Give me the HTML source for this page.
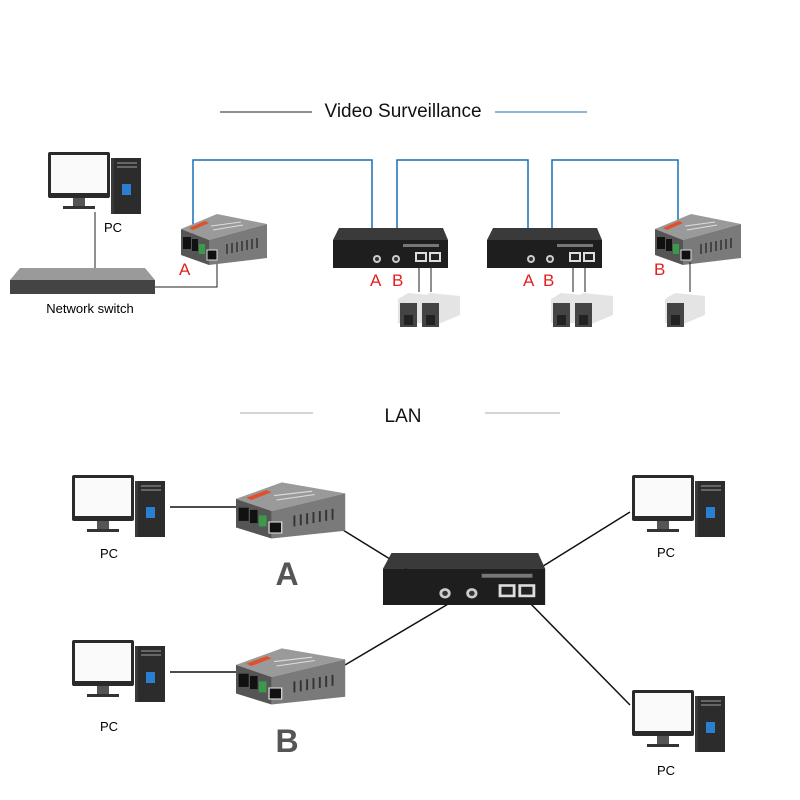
<!DOCTYPE html>
<html><head><style>
html,body{margin:0;padding:0;background:#fff;}
svg{display:block;font-family:"Liberation Sans",sans-serif;}
</style></head><body>
<svg width="800" height="800" viewBox="0 0 800 800" xmlns="http://www.w3.org/2000/svg">
<defs>
<g id="pc">
 <rect x="0" y="0" width="62" height="46" rx="2" fill="#2a2a2a"/>
 <rect x="3" y="3" width="56" height="38" fill="#fafafa"/>
 <rect x="25" y="46" width="12" height="8" fill="#555"/>
 <rect x="15" y="54" width="32" height="3" fill="#333"/>
 <rect x="63" y="6" width="30" height="56" fill="#3a3a3a"/>
 <rect x="66" y="6" width="27" height="56" fill="#2c2c2c"/>
 <rect x="69" y="10" width="20" height="2" fill="#666"/>
 <rect x="69" y="14" width="20" height="2" fill="#666"/>
 <rect x="74" y="32" width="9" height="11" fill="#2a7fd0"/>
</g>
<g id="conv">
 <polygon points="0,19 36,4 86,14 28,30" fill="#9a9a9a"/>
 <polygon points="0,19 28,30 28,55 0,45" fill="#555"/>
 <polygon points="28,30 86,14 86,48 28,55" fill="#7a7a7a"/>
 <polygon points="8,18 24,11 28,13 12,20" fill="#e0502a"/>
 <line x1="30" y1="16" x2="60" y2="12" stroke="#ddd" stroke-width="1"/>
 <line x1="32" y1="20" x2="62" y2="15" stroke="#ddd" stroke-width="1"/>
 <rect x="2" y="27" width="8" height="12" fill="#111"/>
 <rect x="11" y="29" width="6" height="12" fill="#111"/>
 <rect x="18" y="34" width="6" height="10" fill="#3a9a4a"/>
 <rect x="26" y="40" width="10" height="10" fill="#111" stroke="#ddd" stroke-width="1"/>
 <g stroke="#333" stroke-width="1.5">
  <line x1="46" y1="34" x2="46" y2="44"/><line x1="51" y1="33" x2="51" y2="43"/><line x1="56" y1="32" x2="56" y2="42"/><line x1="61" y1="31" x2="61" y2="41"/><line x1="66" y1="30" x2="66" y2="40"/><line x1="71" y1="29" x2="71" y2="39"/><line x1="76" y1="28" x2="76" y2="38"/>
 </g>
</g>
<g id="sw">
 <polygon points="6,0 110,0 115,12 0,12" fill="#3a3a3a"/>
 <rect x="0" y="12" width="115" height="28" fill="#1e1e1e"/>
 <circle cx="44" cy="31" r="4" fill="#ccc"/><circle cx="44" cy="31" r="2" fill="#333"/>
 <circle cx="63" cy="31" r="4" fill="#ccc"/><circle cx="63" cy="31" r="2" fill="#333"/>
 <rect x="82" y="24" width="12" height="10" fill="#ddd"/><rect x="84" y="26" width="8" height="6" fill="#222"/>
 <rect x="96" y="24" width="12" height="10" fill="#ddd"/><rect x="98" y="26" width="8" height="6" fill="#222"/>
 <rect x="70" y="16" width="36" height="3" fill="#777"/>
</g>
<g id="cam">
 <polygon points="0,6 10,0 40,3 40,22 16,32 0,30" fill="#e4e4e4"/>
 <rect x="2" y="10" width="17" height="24" fill="#444"/>
 <rect x="6" y="22" width="9" height="10" fill="#222"/>
</g>
</defs>

<!-- Title -->
<line x1="220" y1="112" x2="312" y2="112" stroke="#222" stroke-width="1"/>
<line x1="495" y1="112" x2="587" y2="112" stroke="#1a6fb0" stroke-width="1"/>
<text x="403" y="117" font-size="19" text-anchor="middle" fill="#111">Video Surveillance</text>

<!-- PC + switch -->
<use href="#pc" x="48" y="152"/>
<text x="113" y="232" font-size="13" text-anchor="middle">PC</text>
<line x1="95" y1="212" x2="95" y2="268" stroke="#222"/>
<polygon points="20,268 145,268 155,280 10,280" fill="#9a9a9a"/>
<rect x="10" y="280" width="145" height="14" fill="#444"/>
<text x="90" y="313" font-size="13" text-anchor="middle">Network switch</text>
<polyline points="155,287 217,287 217,260" fill="none" stroke="#222"/>

<!-- blue fiber lines -->
<g fill="none" stroke="#1a6fb0" stroke-width="1.5">
 <polyline points="193,240 193,160 372,160 372,248"/>
 <polyline points="397,248 397,160 528,160 528,248"/>
 <polyline points="552,248 552,160 678,160 678,232"/>
</g>

<use href="#conv" x="181" y="210"/>
<use href="#conv" x="655" y="210"/>
<use href="#sw" x="333" y="228"/>
<use href="#sw" x="487" y="228"/>

<g font-size="17" fill="#e02020">
<text x="179" y="275">A</text>
<text x="370" y="286">A</text><text x="392" y="286">B</text>
<text x="523" y="286">A</text><text x="543" y="286">B</text>
<text x="654" y="275">B</text>
</g>
<g stroke="#222">
<line x1="419" y1="264" x2="419" y2="292"/><line x1="431" y1="264" x2="431" y2="292"/>
<line x1="573" y1="264" x2="573" y2="292"/><line x1="585" y1="264" x2="585" y2="292"/>
<line x1="690" y1="262" x2="690" y2="292"/>
</g>
<use href="#cam" x="398" y="293"/><use href="#cam" x="420" y="293"/>
<use href="#cam" x="551" y="293"/><use href="#cam" x="573" y="293"/>
<use href="#cam" x="665" y="293"/>

<!-- LAN -->
<line x1="240" y1="413" x2="313" y2="413" stroke="#aaa"/>
<line x1="485" y1="413" x2="560" y2="413" stroke="#aaa"/>
<text x="403" y="422" font-size="19" text-anchor="middle" fill="#111">LAN</text>

<g stroke="#111" stroke-width="1.5">
 <line x1="170" y1="507" x2="240" y2="507"/>
 <line x1="170" y1="672" x2="240" y2="672"/>
 <line x1="330" y1="522" x2="440" y2="590"/>
 <line x1="345" y1="665" x2="460" y2="597"/>
 <line x1="540" y1="568" x2="630" y2="512"/>
 <line x1="525" y1="598" x2="630" y2="705"/>
</g>

<use href="#pc" x="72" y="475"/>
<text x="109" y="558" font-size="13" text-anchor="middle">PC</text>
<use href="#pc" x="72" y="640"/>
<text x="109" y="731" font-size="13" text-anchor="middle">PC</text>
<use href="#pc" x="632" y="475"/>
<text x="666" y="557" font-size="13" text-anchor="middle">PC</text>
<use href="#pc" x="632" y="690"/>
<text x="666" y="775" font-size="13" text-anchor="middle">PC</text>

<use href="#conv" transform="translate(236,478) scale(1.27,1.1)"/>
<use href="#conv" transform="translate(236,644) scale(1.27,1.1)"/>
<text x="287" y="585" font-size="32" font-weight="bold" text-anchor="middle" fill="#555">A</text>
<text x="287" y="752" font-size="32" font-weight="bold" text-anchor="middle" fill="#555">B</text>

<use href="#sw" transform="translate(383,553) scale(1.41,1.3)"/>
</svg>
</body></html>
